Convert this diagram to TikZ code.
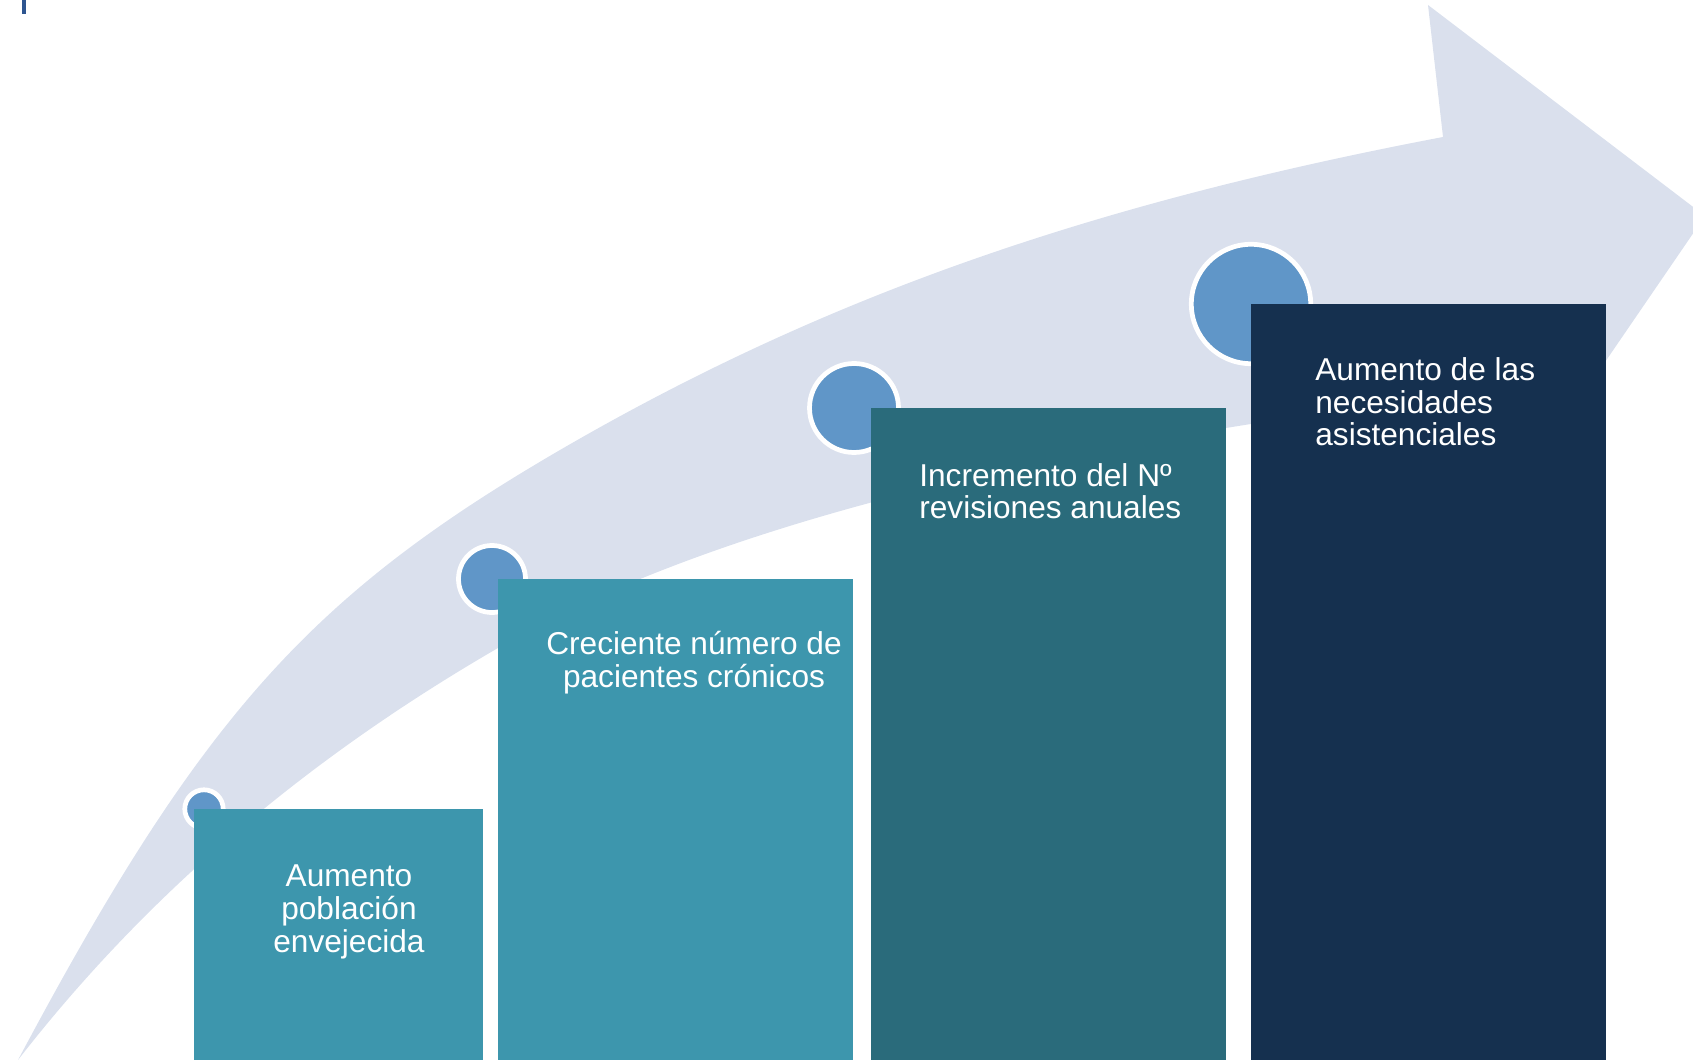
\documentclass[tikz,border=0pt]{standalone}
\usepackage{fontspec}
\setmainfont{Liberation Sans}
\definecolor{bandcol}{RGB}{218,224,237}
\definecolor{dotcol}{RGB}{96,150,200}
\definecolor{tealcol}{RGB}{61,150,173}
\definecolor{deepcol}{RGB}{42,107,123}
\definecolor{navycol}{RGB}{21,48,79}
\definecolor{tickcol}{RGB}{46,85,144}
\begin{document}
\begin{tikzpicture}[x=0.02cm,y=-0.02cm,
	bar/.style={fill=#1},
	dot/.style={fill=dotcol,draw=white,line width=2.7pt},
	txt/.style={text=white,font=\fontsize{18}{18.5}\selectfont,inner sep=0pt}]
		\clip (0,0) rectangle (1693,1060);
		% curved arrow behind the bars
		\fill[bandcol] (18,1060) .. controls (200,718) and (309,596) .. (560,450)
			.. controls (820,299) and (1085,205) .. (1443,137)
			-- (1428,5) -- (1705,216) -- (1490,530) -- (1460,395)
			.. controls (1015,449) and (698,532) .. (498,648)
			.. controls (301,762) and (143,899) .. (18,1060) -- cycle;
		\fill[tickcol] (22,0) rectangle (26,14);
		\coordinate (R1) at (194,809);
		\coordinate (R2) at (498,579);
		\coordinate (R3) at (871,408);
		\coordinate (R4) at (1251,304);
		\coordinate (C1) at (204,809);
		\coordinate (C2) at (492,579);
		\coordinate (C3) at (854,408);
		\coordinate (C4) at (1251,304);
		\foreach \c/\r in {C1/19.2,C2/33.5,C3/44.5,C4/59.7}
		\draw[dot] (\c) circle (\r);
		\fill[bar=tealcol] (R1) rectangle ++(289,251);
		\fill[bar=tealcol] (R2) rectangle ++(355,481);
		\fill[bar=deepcol] (R3) rectangle ++(355,652);
		\fill[bar=navycol] (R4) rectangle ++(355,756);
		% anchor base sits on the last line
		\node[txt,align=center,anchor=base] (T1) at ([shift={(155,143)}]R1) {Aumento\\población\\envejecida};
		\node[txt,align=center,anchor=base] (T2) at ([shift={(196,108)}]R2) {Creciente número de\\pacientes crónicos};
		\node[txt,align=left,anchor=base west] (T3) at ([shift={(48,111)}]R3) {Incremento del Nº\\revisiones anuales};
		\node[txt,align=left,anchor=base west] (T4) at ([shift={(64,142)}]R4) {Aumento de las\\necesidades\\asistenciales};
	    \end{tikzpicture}
\end{document}
